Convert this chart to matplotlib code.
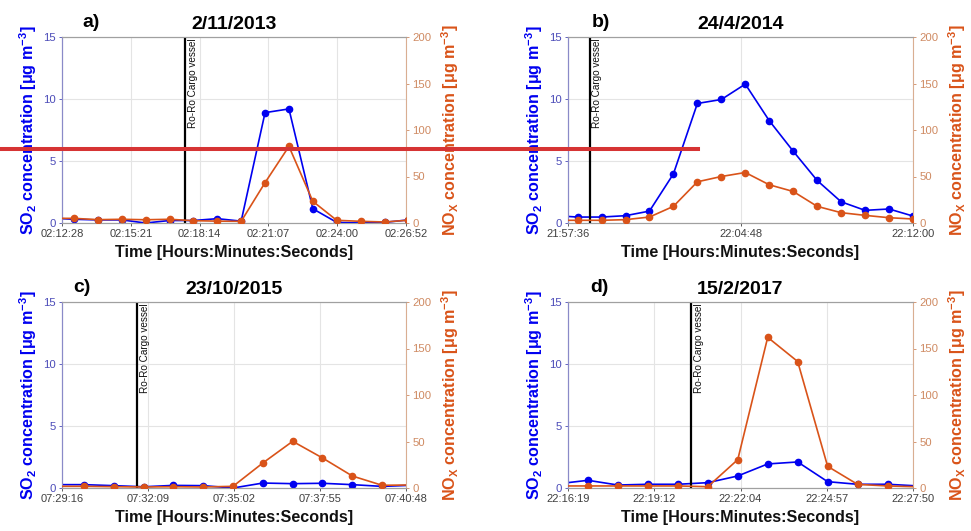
import matplotlib
matplotlib.use("Agg")
import matplotlib.pyplot as plt
from matplotlib.lines import Line2D
import numpy as np

plt.rcParams['font.family'] = ['Liberation Sans', 'DejaVu Sans']
plt.rcParams['mathtext.fontset'] = 'custom'
plt.rcParams['mathtext.rm'] = 'Liberation Sans'
plt.rcParams['mathtext.bf'] = 'Liberation Sans:bold'
plt.rcParams['mathtext.it'] = 'Liberation Sans:italic'

# ---------------- data ----------------
panel_letters = ['a)', 'b)', 'c)', 'd)']
panel_titles = ['2/11/2013', '24/4/2014', '23/10/2015', '15/2/2017']

# sample times: seconds after the first tick label
a_t = [-30, 30, 90, 150, 210, 270, 330, 390, 450, 510, 570, 630, 690, 750, 810, 870]
a_so2 = [0.4, 0.3, 0.25, 0.25, 0.0, 0.2, 0.2, 0.35, 0.15, 8.9, 9.2, 1.15, 0.05, 0.0, 0.05, 0.25]
a_nox = [5, 5, 3.6, 4, 3.5, 4, 2.5, 2, 1.8, 43.4, 82.4, 23.3, 2.9, 1.8, 1.1, 3]
a_ticks = ['02:12:28', '02:15:21', '02:18:14', '02:21:07', '02:24:00', '02:26:52']
a_span = 864
a_vessel = 309

b_t = [-36, 24, 84, 144, 204, 264, 324, 384, 444, 504, 564, 624, 684, 744, 804, 864]
b_so2 = [0.6, 0.48, 0.48, 0.59, 0.96, 3.96, 9.64, 9.96, 11.2, 8.25, 5.79, 3.43, 1.71, 1.02, 1.13, 0.56]
b_nox = [2.9, 2.9, 2.9, 3.6, 6.4, 17.9, 44.3, 50, 54.3, 41.1, 33.9, 17.9, 11.1, 8.2, 5.7, 4.3]
b_ticks = ['21:57:36', '22:04:48', '22:12:00']
b_span = 864
b_vessel = 54

c_t = [-16, 44, 104, 164, 224, 284, 344, 404, 464, 524, 584, 644, 704]
c_so2 = [0.27, 0.27, 0.19, 0.1, 0.21, 0.19, 0.0, 0.4, 0.35, 0.38, 0.27, 0.13, 0.22]
c_nox = [1.8, 1.8, 1.4, 1.1, 1.4, 1.1, 1.8, 26.9, 50.2, 32.3, 12.9, 2.9, 3.3]
c_ticks = ['07:29:16', '07:32:09', '07:35:02', '07:37:55', '07:40:48']
c_span = 692
c_vessel = 151

d_t = [-20, 40, 100, 160, 220, 280, 340, 400, 460, 520, 580, 640, 700]
d_so2 = [0.34, 0.62, 0.24, 0.3, 0.3, 0.43, 0.97, 1.94, 2.1, 0.51, 0.3, 0.3, 0.17]
d_nox = [2.2, 2.2, 2.2, 2.2, 2.2, 1.4, 30.5, 162, 136, 23.3, 3.9, 2.2, 1.3]
d_ticks = ['22:16:19', '22:19:12', '22:22:04', '22:24:57', '22:27:50']
d_span = 691
d_vessel = 247

so2_ticks = [0, 5, 10, 15]
nox_ticks = [0, 50, 100, 150, 200]
vessel_label = 'Ro-Ro Cargo vessel'

panels = [
    (a_t, a_so2, a_nox, a_ticks, a_span, a_vessel),
    (b_t, b_so2, b_nox, b_ticks, b_span, b_vessel),
    (c_t, c_so2, c_nox, c_ticks, c_span, c_vessel),
    (d_t, d_so2, d_nox, d_ticks, d_span, d_vessel),
]

# ---------------- style ----------------
W, H = 971, 531
fig = plt.figure(figsize=(W / 100, H / 100), dpi=100)

BLUE = '#0000F0'
ORANGE = '#D95319'
LEFT_TICK_C = '#4B4BB8'
LEFT_SPINE_C = '#8A8AC8'
RIGHT_TICK_C = '#CF8A62'
RIGHT_SPINE_C = '#D9AE92'

# axes boxes in pixels (left, top, right, bottom)
boxes = [(62, 37, 406, 223), (568, 37, 913, 223), (62, 302, 406, 488), (568, 302, 913, 488)]
letter_off = [20, 24, 11, 22]

for i, (t, so2, nox, ticks, span, vessel) in enumerate(panels):
    l, tp, r, b = boxes[i]
    ax = fig.add_axes([l / W, 1 - b / H, (r - l) / W, (b - tp) / H])
    ax2 = ax.twinx()

    ax.plot(t, so2, '-o', color=BLUE, lw=1.2, ms=4.5, zorder=3)
    ax2.plot(t, nox, '-o', color=ORANGE, lw=1.2, ms=4.5, zorder=3)

    ax.set_xlim(0, span)
    ax.set_ylim(0, 15)
    ax2.set_ylim(0, 200)
    ax.set_xticks(np.linspace(0, span, len(ticks)))
    ax.set_xticklabels(ticks)
    ax.set_yticks(so2_ticks)
    ax2.set_yticks(nox_ticks)

    ax.grid(True, color='#E4E4E4', lw=0.8)
    ax.set_axisbelow(True)

    ax.axvline(vessel, color='black', lw=1.6, zorder=4)
    ax.text(vessel + span * 0.008, 14.85, vessel_label, rotation=90, ha='left', va='top',
            fontsize=7.2, color='#111111', zorder=5)

    ax.tick_params(axis='x', labelsize=8, colors='#404040', length=2.5, width=0.6, pad=2)
    ax.tick_params(axis='y', labelsize=8.2, colors=LEFT_TICK_C, length=2.5, width=0.6, pad=2)
    ax2.tick_params(axis='y', labelsize=8.2, colors=RIGHT_TICK_C, length=2.5, width=0.6, pad=2)
    for s in ['top', 'bottom']:
        ax.spines[s].set_color('#A0A0A0')
        ax2.spines[s].set_color('#A0A0A0')
    ax.spines['left'].set_color(LEFT_SPINE_C)
    ax2.spines['left'].set_color(LEFT_SPINE_C)
    ax2.spines['right'].set_color(RIGHT_SPINE_C)
    ax.spines['right'].set_visible(False)
    for s in ax.spines.values():
        s.set_linewidth(0.8)
    for s in ax2.spines.values():
        s.set_linewidth(0.8)

    ax.set_xlabel('Time [Hours:Minutes:Seconds]', fontsize=11.6, fontweight='bold',
                  color='#111111', labelpad=4)
    ax.set_ylabel(r'SO$_\mathbf{2}$ concentration [μg m$^\mathbf{-3}$]', fontsize=11.6,
                  fontweight='bold', color=BLUE, labelpad=3)
    ax2.set_ylabel(r'NO$_\mathbf{X}$ concentration [μg m$^\mathbf{-3}$]', fontsize=11.6,
                   fontweight='bold', color=ORANGE, labelpad=6)

    ax.set_title(panel_titles[i], fontsize=14, fontweight='bold', pad=6)
    ax.text(letter_off[i] / (r - l), 1.0 + 6 / (b - tp), panel_letters[i],
            transform=ax.transAxes, fontsize=14, fontweight='bold', ha='left', va='bottom')

# red horizontal marker line across the top row
fig.add_artist(Line2D([0, 698 / W], [1 - 149 / H, 1 - 149 / H], color='#D63434', lw=2.9,
                      transform=fig.transFigure, zorder=20))

fig.savefig('out.png', dpi=100)
